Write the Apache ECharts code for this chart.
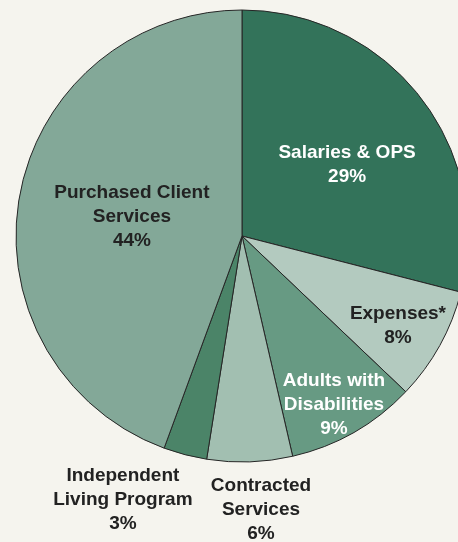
<!DOCTYPE html>
<html>
<head>
<meta charset="utf-8">
<script src="https://cdn.jsdelivr.net/npm/echarts@6/dist/echarts.min.js"></script>
<style>
  html, body { margin: 0; padding: 0; background: #f5f4ee; }
  #chart { width: 458px; height: 542px; }
</style>
</head>
<body>
<div id="chart"></div>
<script>
// slices, clockwise from 12 o'clock
const categories = ['Salaries & OPS', 'Expenses*', 'Adults with\nDisabilities', 'Contracted\nServices', 'Independent\nLiving Program', 'Purchased Client\nServices']
const values = [29.0, 8.1, 9.3, 6.1, 3.1, 44.4]
const percentLabels = ['29%', '8%', '9%', '6%', '3%', '44%']

const colors = ['#33735a', '#b3cabf', '#679a83', '#a2bfb1', '#4b8468', '#83a898']
const textColors = ['#ffffff', '#222222', '#ffffff', '#222222', '#222222', '#222222']
// label centre offsets, as fraction of radius from pie centre
const labelOffsets = [[0.465, -0.315], [0.69, 0.395], [0.407, 0.745], [0.084, 1.21], [-0.527, 1.165], [-0.487, -0.085]]

const cx = 242
const cy = 236
const radius = 226

const chart = echarts.init(document.getElementById('chart'))

const option = {
  backgroundColor: '#f5f4ee',
  animation: false,
  series: [
    {
      type: 'pie',
      center: [cx, cy],
      radius: radius,
      startAngle: 90,
      clockwise: true,
      avoidLabelOverlap: false,
      itemStyle: {
        borderColor: '#262626',
        borderWidth: 1,
      },
      label: {
        show: true,
        position: 'inside',
        fontFamily: 'Liberation Sans, Arial, sans-serif',
        fontWeight: 'bold',
        fontSize: 19,
        lineHeight: 24,
        align: 'center',
        formatter: function (p) {
          return p.name + '\n' + percentLabels[p.dataIndex]
        },
      },
      labelLine: { show: false },
      emphasis: { disabled: true },
      labelLayout: function (p) {
        const off = labelOffsets[p.dataIndex]
        return {
          x: cx + off[0] * radius,
          y: cy + off[1] * radius,
          align: 'center',
          verticalAlign: 'middle',
        }
      },
      data: categories.map(function (name, i) {
        return {
          name: name,
          value: values[i],
          itemStyle: { color: colors[i] },
          label: { color: textColors[i] },
        }
      }),
    },
  ],
}
chart.setOption(option)
</script>
</body>
</html>
